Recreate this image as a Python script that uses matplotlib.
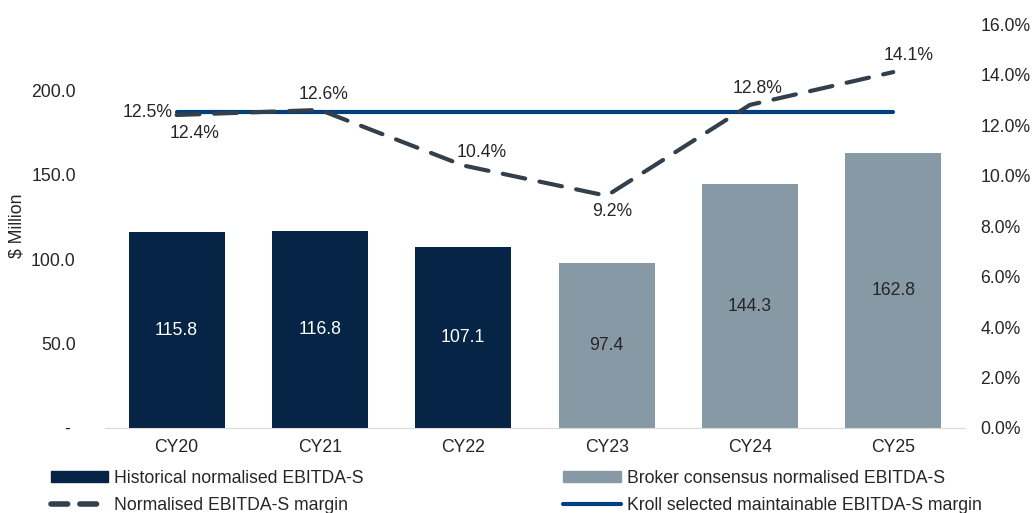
import matplotlib.pyplot as plt
from matplotlib.lines import Line2D
from matplotlib.patches import Patch

plt.rcParams["font.family"] = ["Liberation Sans", "DejaVu Sans"]

years = ["CY20", "CY21", "CY22", "CY23", "CY24", "CY25"]
ebitda = [115.8, 116.8, 107.1, 97.4, 144.3, 162.8]
is_forecast = [False, False, False, True, True, True]
margin = [12.4, 12.6, 10.4, 9.2, 12.8, 14.1]
selected_margin = 12.5

NAVY = "#062446"
GREY = "#8899A6"
KROLL = "#003F7D"
DASH = "#333F4B"
TEXT = "#262626"
FS = 12.7


def main():
    fig = plt.figure(figsize=(10.32, 5.13), dpi=100)
    ax = fig.add_axes([0.1017, 0.1657, 0.8333, 0.7873])
    ax2 = ax.twinx()

    x = list(range(len(years)))
    colors = [GREY if f else NAVY for f in is_forecast]
    bars = ax.bar(x, ebitda, width=0.67, color=colors, zorder=2)
    for b, v, f in zip(bars, ebitda, is_forecast):
        ax.text(b.get_x() + b.get_width() / 2, v / 2, f"{v:.1f}",
                ha="center", va="center", fontsize=FS,
                color=TEXT if f else "white")

    ax.set_xlim(-0.5, len(years) - 0.5)
    ax.set_ylim(0, 239)
    ax.set_yticks([0, 50, 100, 150, 200])
    ax.set_yticklabels(["- ", "50.0", "100.0", "150.0", "200.0"])
    ax.set_xticks(x)
    ax.set_xticklabels(years)
    ax.tick_params(axis="both", length=0, labelsize=FS, colors=TEXT)
    ax.tick_params(axis="y", pad=21)
    ax.tick_params(axis="x", pad=8)
    ax.set_ylabel("$ Million", fontsize=FS, color=TEXT)
    ax.yaxis.set_label_coords(-0.092, 0.5)

    for a in (ax, ax2):
        for s in ("top", "left", "right"):
            a.spines[s].set_visible(False)
    ax.spines["bottom"].set_color("#D9D9D9")
    ax2.spines["bottom"].set_visible(False)

    ax2.set_ylim(0, 16)
    ax2.set_yticks(range(0, 17, 2))
    ax2.set_yticklabels([f"{t:.1f}%" for t in range(0, 17, 2)])
    ax2.tick_params(axis="y", length=0, labelsize=FS, colors=TEXT, pad=11)

    ax2.plot([x[0], x[-1]], [selected_margin] * 2, color=KROLL, lw=3,
             solid_capstyle="round", zorder=3)
    ax2.plot(x, margin, color=DASH, lw=3, linestyle=(0, (5.5, 3.5)),
             dash_capstyle="round", zorder=4)

    ax2.text(x[0] - 0.03, selected_margin, f"{selected_margin:.1f}%",
             ha="right", va="center", fontsize=FS, color=TEXT)
    # label offsets (dx in data units, dy in points)
    offsets = [(0.125, -13), (0.025, 11), (0.125, 9.5),
               (0.04, -11.5), (0.055, 12), (0.11, 12)]
    for xi, m, (dx, dy) in zip(x, margin, offsets):
        ax2.annotate(f"{m:.1f}%", (xi + dx, m), xytext=(0, dy),
                     textcoords="offset points", ha="center", va="center",
                     fontsize=FS, color=TEXT)

    handles = [
        Patch(color=NAVY),
        Line2D([], [], color=DASH, lw=4, linestyle=(0, (3, 2.2)),
               dash_capstyle="round"),
        Patch(color=GREY),
        Line2D([], [], color=KROLL, lw=3, solid_capstyle="round"),
    ]
    labels = [
        "Historical normalised EBITDA-S",
        "Normalised EBITDA-S margin",
        "Broker consensus normalised EBITDA-S",
        "Kroll selected maintainable EBITDA-S margin",
    ]
    fig.legend(handles, labels, ncol=2, loc="upper left",
               bbox_to_anchor=(0.049, 0.084), frameon=False, fontsize=FS,
               handlelength=3.25, handleheight=0.6, handletextpad=0.33,
               columnspacing=11.35, labelspacing=0.58, labelcolor=TEXT,
               borderaxespad=0, borderpad=0)

    fig.savefig("out.png", dpi=100)


if __name__ == "__main__":
    main()
